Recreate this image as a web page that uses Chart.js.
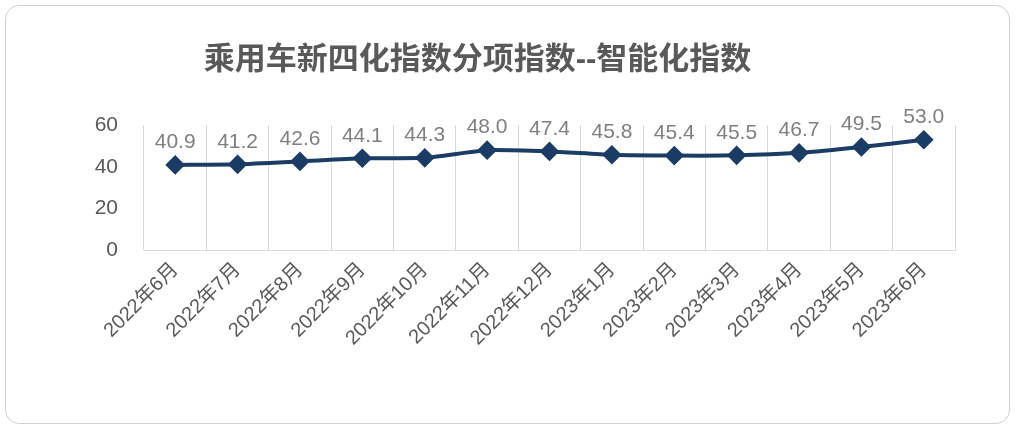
<!DOCTYPE html>
<html><head><meta charset="utf-8">
<script src="https://cdn.jsdelivr.net/npm/chart.js@4/dist/chart.umd.min.js"></script>
<style>
html,body{margin:0;padding:0;background:#fff;}
#box{position:absolute;left:5px;top:5px;width:1005px;height:419px;border:1px solid #d0d0d0;border-radius:14px;box-sizing:border-box;}
#wrap{position:absolute;left:0;top:0;width:1019px;height:437px;}
</style></head><body>
<div id="box"></div>
<div id="wrap"><canvas id="c"></canvas></div>
<script>
const categories=["2022年6月","2022年7月","2022年8月","2022年9月","2022年10月","2022年11月","2022年12月","2023年1月","2023年2月","2023年3月","2023年4月","2023年5月","2023年6月"];
const values=[40.9,41.2,42.6,44.1,44.3,48.0,47.4,45.8,45.4,45.5,46.7,49.5,53.0];
const titleText="乘用车新四化指数分项指数--智能化指数";
const font="'Liberation Sans','Noto Sans CJK SC',sans-serif";
const labelPlugin={id:'lbl',afterDatasetsDraw(ch){const ctx=ch.ctx;const m=ch.getDatasetMeta(0);ctx.save();ctx.font="21px "+font;ctx.fillStyle="#7f7f7f";ctx.textAlign="center";ctx.textBaseline="bottom";m.data.forEach((p,i)=>{ctx.fillText(values[i].toFixed(1),p.x,p.y-12);});ctx.restore();}};
new Chart(document.getElementById('c'),{type:'line',
data:{labels:categories,datasets:[{data:values,borderColor:'#1b3c64',backgroundColor:'#1b3c64',borderWidth:4,pointStyle:'rectRot',pointRadius:7,tension:0.2}]},
options:{responsive:true,maintainAspectRatio:false,animation:false,
layout:{padding:{left:0,right:64,top:0,bottom:0}},
plugins:{legend:{display:false},tooltip:{enabled:false},
title:{display:true,text:titleText,color:'#595959',font:{family:font,size:31,weight:'bold'},padding:{top:42,bottom:46}}},
scales:{x:{offset:true,afterFit:s=>{s.height=187;},grid:{offset:true,color:'#d9d9d9',drawTicks:false},border:{color:'#d9d9d9'},ticks:{color:'#595959',font:{family:font,size:20},maxRotation:45,minRotation:45,padding:8}},
y:{min:0,max:60,afterFit:s=>{s.width=144;},grid:{display:false},border:{display:false},ticks:{stepSize:20,color:'#595959',font:{family:font,size:21},padding:18}}}},
plugins:[labelPlugin]});
</script></body></html>
